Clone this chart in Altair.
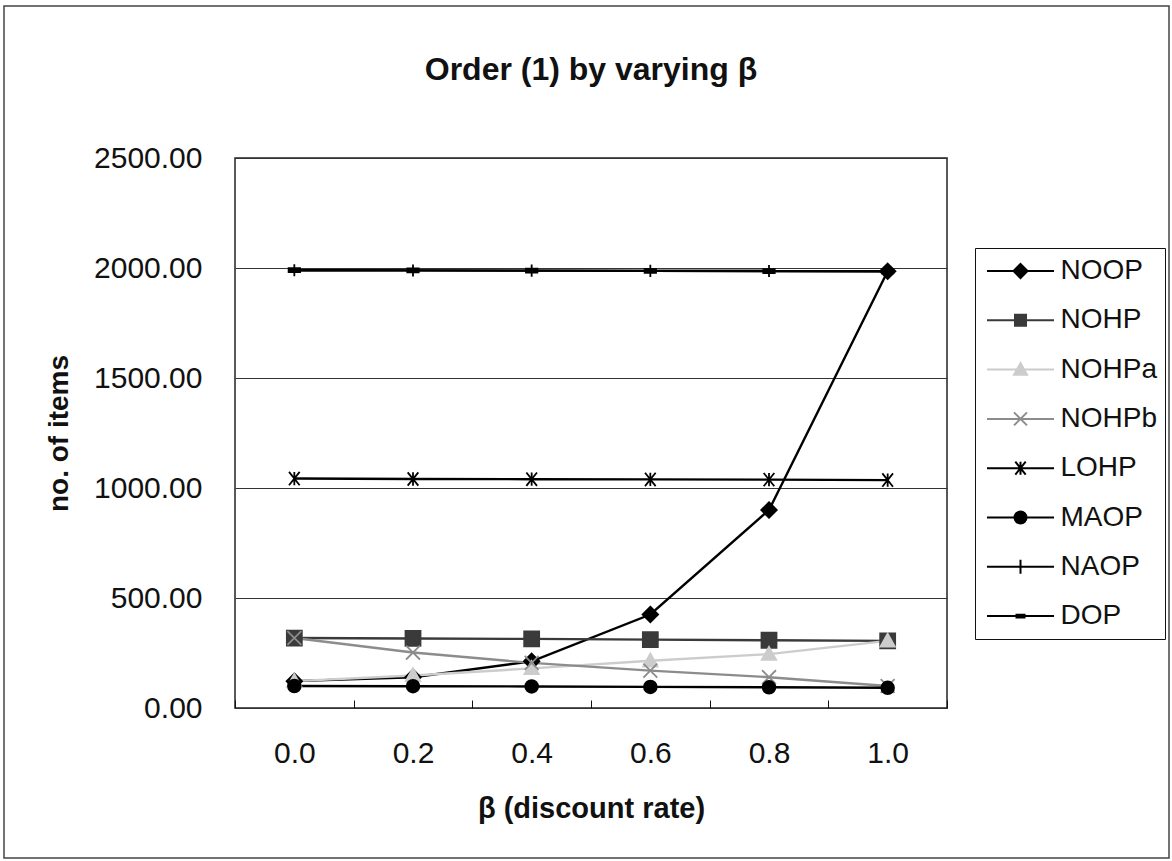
import altair as alt
import pandas as pd

# Discount rate categories (x axis)
beta = ["0.0", "0.2", "0.4", "0.6", "0.8", "1.0"]

# Series names in drawing / legend order
series = ["NOOP", "NOHP", "NOHPa", "NOHPb", "LOHP", "MAOP", "NAOP", "DOP"]

# Number of items per series at each beta
noop = [122, 140, 212, 425, 900, 1985]
nohp = [318, 316, 314, 311, 308, 305]
nohpa = [122, 148, 180, 215, 245, 305]
nohpb = [318, 252, 205, 170, 140, 100]
lohp = [1043, 1041, 1040, 1039, 1038, 1036]
maop = [100, 99, 98, 96, 94, 92]
naop = [1990, 1989, 1988, 1987, 1986, 1985]
dop = [1990, 1989, 1988, 1987, 1986, 1985]

values = [noop, nohp, nohpa, nohpb, lohp, maop, naop, dop]
colors = ["#000000", "#3a3a3a", "#cccccc", "#8c8c8c",
          "#000000", "#000000", "#000000", "#000000"]

rows = []
for name, vals in zip(series, values):
    for b, v in zip(beta, vals):
        rows.append({"beta": b, "series": name, "items": v})
df = pd.DataFrame(rows)


# Marker outlines, k = half size in path units
def diamond(k):
    return f"M0,{-k}L{k},0L0,{k}L{-k},0Z"


def square(k):
    return f"M{-k},{-k}H{k}V{k}H{-k}Z"


def triangle(k):
    return f"M0,{-k}L{k},{0.8 * k}H{-k}Z"


def xmark(k):
    return f"M{-k},{-k}L{k},{k}M{-k},{k}L{k},{-k}"


def asterisk(k):
    return f"M{-0.8 * k},{-k}L{0.8 * k},{k}M{-0.8 * k},{k}L{0.8 * k},{-k}M0,{-k}V{k}"


def circle(k):
    return f"M{-k},0A{k},{k} 0 1,0 {k},0A{k},{k} 0 1,0 {-k},0Z"


def plus(k):
    return f"M0,{-k}V{k}M{-k},0H{k}"


def dash(k):
    return f"M{-k},{-0.35 * k}H{k}V{0.35 * k}H{-k}Z"


makers = [diamond, square, triangle, xmark, asterisk, circle, plus, dash]
chart_shapes = [m(1) for m in makers]
chart_sizes = [240, 130, 180, 210, 180, 160, 210, 64]

# Legend symbols: a line segment with the marker in its middle
legend_unit = 14.0
legend_half_px = [7, 5.5, 6.5, 6.5, 6.5, 6, 7, 4]
line_half = 33.5 / legend_unit
legend_shapes = [
    f"M{-line_half:.3f},0H{line_half:.3f}" + m(round(h / legend_unit, 3))
    for m, h in zip(makers, legend_half_px)
]

font = "Liberation Sans"

x_enc = alt.X(
    "beta:N",
    sort=beta,
    scale=alt.Scale(type="band", paddingInner=0, paddingOuter=0),
    axis=alt.Axis(
        title="β (discount rate)",
        orient="bottom",
        offset=-8,
        tickSize=8,
        tickColor="#111",
        tickWidth=1,
        tickBand="extent",
        domain=False,
        grid=False,
        labelAngle=0,
        labelFontSize=30,
        labelPadding=30,
        labelColor="#111",
        titleFontSize=29,
        titleFontWeight="bold",
        titleColor="#111",
        titlePadding=26,
    ),
)

y_enc = alt.Y(
    "items:Q",
    scale=alt.Scale(domain=[0, 2500], nice=False),
    axis=alt.Axis(
        title="no. of items",
        values=[0, 500, 1000, 1500, 2000, 2500],
        format=".2f",
        grid=True,
        gridColor="#333",
        gridWidth=1,
        ticks=False,
        domain=False,
        labelFontSize=30,
        labelPadding=33,
        labelColor="#111",
        titleFontSize=28,
        titleFontWeight="bold",
        titleColor="#111",
        titlePadding=20,
    ),
)

color_scale = alt.Scale(domain=series, range=colors)

lines = alt.Chart(df).mark_line(strokeWidth=2.4).encode(
    x=x_enc,
    y=y_enc,
    color=alt.Color("series:N", scale=color_scale, legend=None),
)

points = alt.Chart(df).mark_point(filled=True, strokeWidth=1.8, opacity=1).encode(
    x=x_enc,
    y=y_enc,
    fill=alt.Fill("series:N", scale=color_scale, legend=None),
    stroke=alt.Stroke("series:N", scale=color_scale, legend=None),
    shape=alt.Shape("series:N", scale=alt.Scale(domain=series, range=chart_shapes), legend=None),
    size=alt.Size("series:N", scale=alt.Scale(domain=series, range=chart_sizes), legend=None),
)

legend_layer = alt.Chart(df).transform_filter("false").mark_point(
    filled=True, opacity=1, strokeWidth=2
).encode(
    x=x_enc,
    y=y_enc,
    fill=alt.Fill("series:N", scale=color_scale),
    stroke=alt.Stroke("series:N", scale=color_scale),
    shape=alt.Shape(
        "series:N",
        scale=alt.Scale(domain=series, range=legend_shapes),
        legend=alt.Legend(
            orient="none",
            legendX=740,
            legendY=90,
            title=None,
            strokeColor="#111",
            fillColor="white",
            padding=8,
            symbolSize=784,
            symbolStrokeWidth=2,
            symbolOffset=22.5,
            labelOffset=25,
            labelFontSize=28,
            labelFont=font,
            labelColor="#111",
            labelLimit=300,
            rowPadding=20.3,
        ),
    ),
)

# Outer chart-area frame
frame = alt.Chart(pd.DataFrame({"k": [0]})).mark_rect(
    fill="transparent", stroke="#444", strokeWidth=1.5
).encode(
    x=alt.value(-231), x2=alt.value(934), y=alt.value(-152), y2=alt.value(700)
)

chart = (
    alt.layer(frame, lines, points, legend_layer)
    .resolve_scale(
        color="independent",
        fill="independent",
        stroke="independent",
        shape="independent",
        size="independent",
    )
    .properties(
        width=712,
        height=550,
        title=alt.TitleParams(
            "Order (1) by varying β",
            fontSize=32,
            font=font,
            fontWeight="bold",
            color="#111",
            anchor="middle",
            frame="group",
            baseline="alphabetic",
            offset=-107,
        ),
        autosize=alt.AutoSizeParams(type="none"),
        padding={"left": 235, "top": 158, "right": 225, "bottom": 153},
        background="white",
    )
    .configure(font=font)
    .configure_view(stroke="#222", strokeWidth=1.5)
)

chart.save("out.html", embed_options={"renderer": "svg", "actions": False})
